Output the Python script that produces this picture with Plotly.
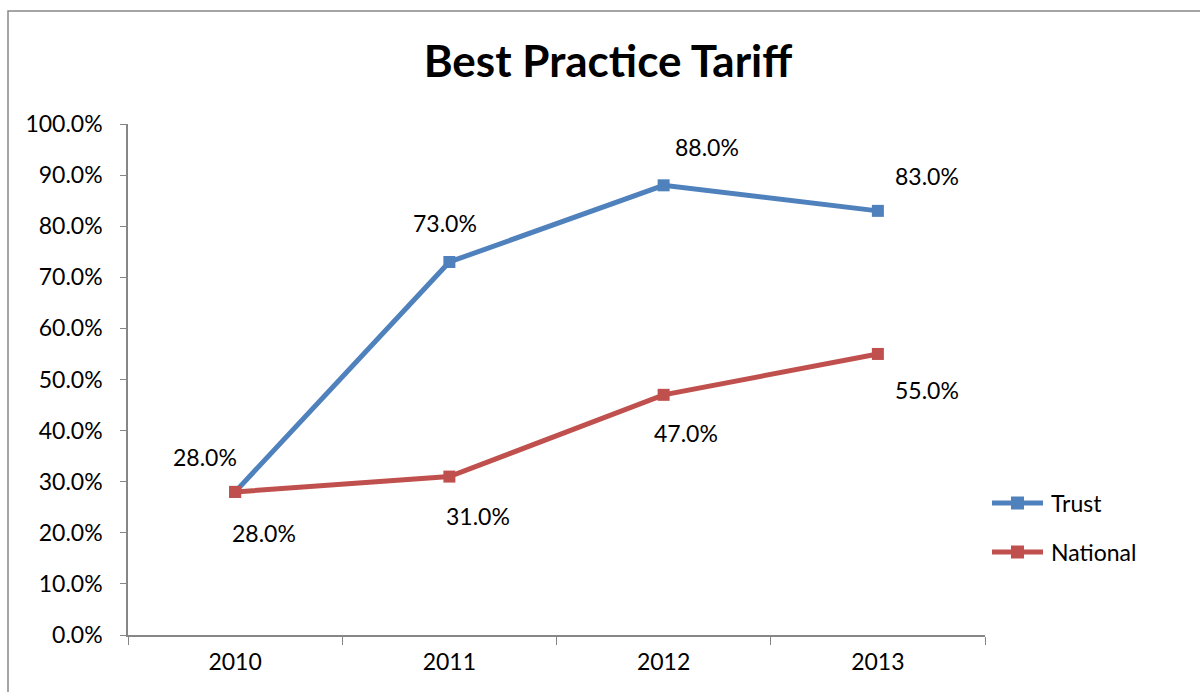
import plotly.graph_objects as go

years = ["2010", "2011", "2012", "2013"]
trust = [0.28, 0.73, 0.88, 0.83]
national = [0.28, 0.31, 0.47, 0.55]
series_names = ["Trust", "National"]
title = "Best Practice Tariff"

# label offsets (px) relative to each point
trust_off = [(-30, 35), (-4, 39), (43, 38), (49, 35)]
national_off = [(29, -41), (29, -39), (22, -38), (49, -36)]

FONT = "Lato"
blue = "#4F81BD"
red = "#C0504D"
colors = [blue, red]

L, R, T, B = 128, 985, 124, 635
W, H = 1200, 692


def px(xp):
    return (xp - L) / (R - L)


def py(yp):
    return (B - yp) / (B - T)


fig = go.Figure()
for name, vals, col in zip(series_names, (trust, national), colors):
    fig.add_trace(go.Scatter(x=years, y=vals, name=name, mode="lines+markers",
                             line=dict(color=col, width=5),
                             marker=dict(symbol="square", size=12, color=col),
                             showlegend=False))

for series, offs in ((trust, trust_off), (national, national_off)):
    for i, (yv, (dx, dy)) in enumerate(zip(series, offs)):
        fig.add_annotation(x=i, y=yv, xref="x", yref="y", text=f"{yv*100:.1f}%",
                           showarrow=False, xshift=dx, yshift=dy,
                           font=dict(family=FONT, size=23, color="#000"))

# manual legend
leg_y = [503, 552]
for name, col, yy in zip(series_names, colors, leg_y):
    fig.add_shape(type="line", xref="paper", yref="paper",
                  x0=px(992), x1=px(1043), y0=py(yy), y1=py(yy),
                  line=dict(color=col, width=5))
    fig.add_shape(type="rect", xref="paper", yref="paper",
                  x0=px(1011), x1=px(1024), y0=py(yy - 6.5), y1=py(yy + 6.5),
                  line=dict(width=0), fillcolor=col)
    fig.add_annotation(x=px(1049), y=py(yy), xref="paper", yref="paper",
                       text=name, showarrow=False, xanchor="left", yanchor="middle",
                       font=dict(family=FONT, size=23, color="#000"))

# chart border
fig.add_shape(type="rect", xref="paper", yref="paper",
              x0=px(8), x1=px(1215), y0=py(720), y1=py(11),
              line=dict(color="#888888", width=1.5), fillcolor="rgba(0,0,0,0)",
              layer="below")

fig.update_layout(
    width=W, height=H,
    margin=dict(l=L, r=W - R, t=T, b=H - B),
    paper_bgcolor="white", plot_bgcolor="white",
    title=dict(text=f"<b>{title}</b>", x=608 / W, xanchor="center",
               y=1 - 62 / H, yanchor="middle",
               font=dict(family=FONT, size=44, color="#000")),
    font=dict(family=FONT, size=23, color="#000"),
    showlegend=False,
    xaxis=dict(type="category", range=[-0.5, 3.5], tickson="boundaries",
               showline=True, linecolor="#868686", linewidth=1.5,
               ticks="outside", ticklen=8, tickcolor="#868686",
               showgrid=False, zeroline=False, ticklabelstandoff=6,
               tickfont=dict(family=FONT, size=23, color="#000")),
    yaxis=dict(range=[0, 1], dtick=0.1, tickformat=".1%",
               showline=True, linecolor="#868686", linewidth=1.5,
               ticks="outside", ticklen=6, tickcolor="#868686",
               showgrid=False, zeroline=False, ticklabelstandoff=13,
               tickfont=dict(family=FONT, size=23, color="#000")),
)

fig.write_html("out.html", config={"displayModeBar": False},
               post_script="document.body.style.margin='0';document.body.style.overflow='hidden';")
